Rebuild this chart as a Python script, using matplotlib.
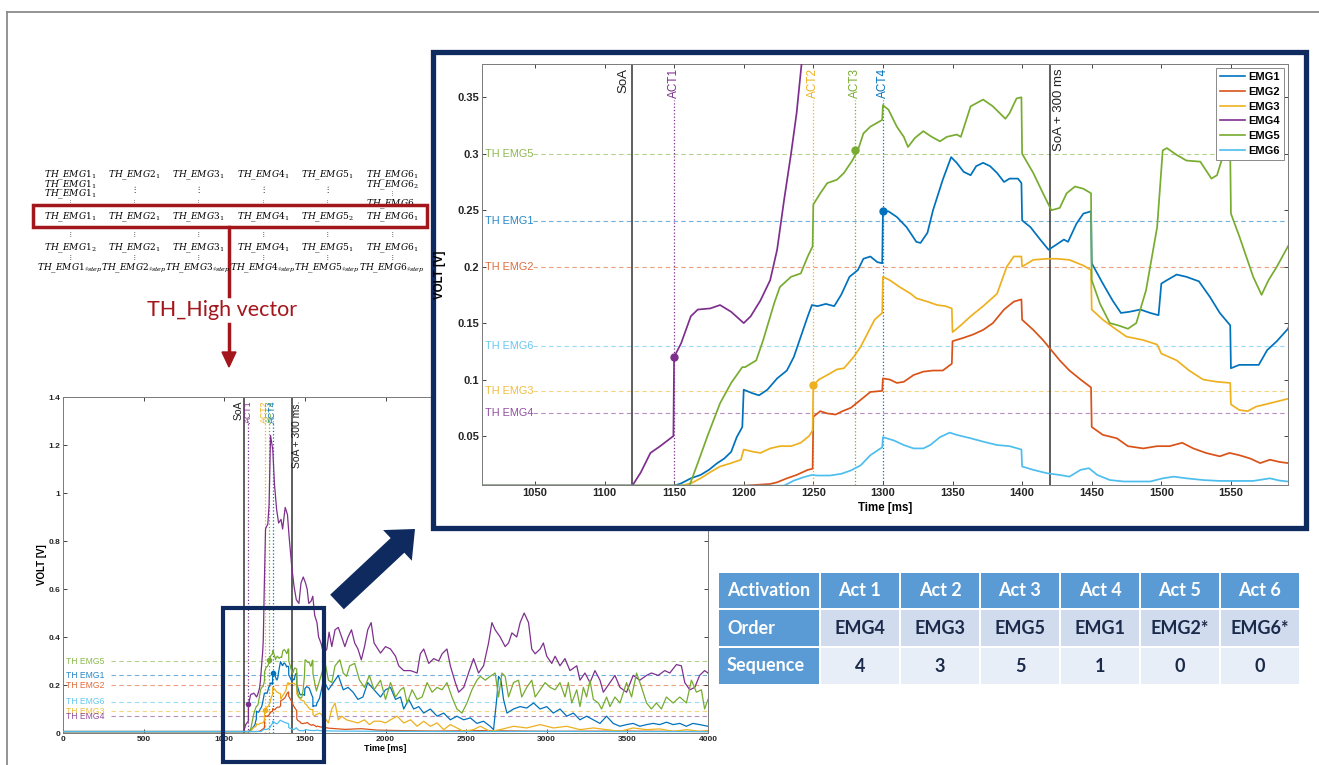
import matplotlib
matplotlib.use("Agg")
import matplotlib.pyplot as plt
from matplotlib.patches import Rectangle, FancyArrow, Polygon

# ---------------- data ----------------
emg1_t = [0, 1000, 1150, 1155, 1162, 1169, 1175, 1181, 1186, 1191, 1195, 1199, 1200, 1206, 1211, 1217, 1224, 1231,
          1236, 1241, 1246, 1249, 1253, 1259, 1265, 1270, 1276, 1282, 1286, 1291, 1296, 1299.5, 1300, 1304, 1310,
          1317, 1324, 1327, 1332, 1336, 1343, 1349, 1353, 1358, 1363, 1367, 1372, 1377, 1382, 1387, 1391, 1397,
          1399.5, 1400, 1406, 1413, 1419, 1424, 1430, 1433, 1439, 1444, 1449.5, 1450, 1458, 1465, 1471, 1477, 1485,
          1492, 1498, 1500, 1504, 1511, 1518, 1527, 1535, 1542, 1549.5, 1550, 1556, 1564, 1570, 1576, 1583, 1591,
          1616, 1646, 1677, 1707, 1738, 1768, 1799, 1829, 1860, 1890, 1929, 1969, 2000, 2031, 2062, 2093, 2113,
          2144, 2175, 2206, 2237, 2278, 2320, 2361, 2402, 2443, 2485, 2526, 2567, 2608, 2649, 2670, 2691, 2701,
          2716, 2732, 2753, 2794, 2835, 2876, 2918, 2959, 3000, 3041, 3082, 3124, 3165, 3206, 3247, 3289, 3330,
          3371, 3412, 3454, 3495, 3536, 3577, 3619, 3660, 3701, 3742, 3784, 3825, 3866, 3907, 3948, 4000]
emg1_v = [0.006, 0.006, 0.006, 0.008, 0.0125, 0.0155, 0.02, 0.026, 0.030, 0.036, 0.049, 0.058, 0.091, 0.088, 0.086,
          0.091, 0.101, 0.108, 0.12, 0.138, 0.156, 0.166, 0.165, 0.167, 0.165, 0.175, 0.191, 0.197, 0.207, 0.209,
          0.204, 0.203, 0.249, 0.249, 0.244, 0.235, 0.222, 0.221, 0.23, 0.25, 0.277, 0.297, 0.292, 0.284, 0.281,
          0.289, 0.292, 0.289, 0.283, 0.275, 0.278, 0.278, 0.274, 0.241, 0.235, 0.224, 0.215, 0.219, 0.224, 0.222,
          0.238, 0.247, 0.249, 0.203, 0.185, 0.17, 0.159, 0.16, 0.162, 0.159, 0.157, 0.185, 0.188, 0.193, 0.191,
          0.187, 0.173, 0.159, 0.148, 0.11, 0.113, 0.113, 0.113, 0.126, 0.134, 0.145, 0.22, 0.18, 0.21, 0.24, 0.18,
          0.19, 0.17, 0.14, 0.15, 0.21, 0.18, 0.15, 0.18, 0.19, 0.14, 0.15, 0.1, 0.14, 0.1, 0.11, 0.083, 0.1, 0.07,
          0.083, 0.055, 0.07, 0.055, 0.063, 0.04, 0.049, 0.028, 0.014, 0.15, 0.236, 0.22, 0.14, 0.083, 0.1, 0.11,
          0.104, 0.125, 0.1, 0.11, 0.083, 0.1, 0.07, 0.083, 0.055, 0.07, 0.055, 0.04, 0.07, 0.04, 0.028, 0.035,
          0.04, 0.028, 0.035, 0.04, 0.035, 0.045, 0.035, 0.04, 0.028, 0.04, 0.035, 0.028]

emg2_t = [0, 1200, 1219, 1224, 1231, 1238, 1246, 1249.5, 1250, 1255, 1260, 1266, 1271, 1277, 1284, 1291, 1299.5,
          1300, 1305, 1310, 1315, 1322, 1329, 1336, 1343, 1349.5, 1350, 1358, 1365, 1372, 1379, 1387, 1394, 1399.5,
          1400, 1408, 1415, 1421, 1427, 1434, 1442, 1449.5, 1450, 1458, 1468, 1476, 1487, 1497, 1506, 1515, 1523,
          1532, 1542, 1549, 1556, 1564, 1571, 1578, 1585, 1591, 1650, 1750, 1850, 1950, 2100, 2300, 2600, 3000,
          3500, 4000]
emg2_v = [0.006, 0.006, 0.0075, 0.009, 0.0125, 0.0155, 0.02, 0.021, 0.067, 0.072, 0.07, 0.069, 0.072, 0.075, 0.082,
          0.089, 0.09, 0.101, 0.1, 0.097, 0.098, 0.104, 0.107, 0.108, 0.108, 0.114, 0.134, 0.137, 0.14, 0.144, 0.15,
          0.162, 0.169, 0.171, 0.153, 0.144, 0.135, 0.126, 0.117, 0.108, 0.1, 0.093, 0.058, 0.051, 0.048, 0.041,
          0.039, 0.041, 0.041, 0.044, 0.039, 0.035, 0.032, 0.035, 0.033, 0.03, 0.026, 0.029, 0.027, 0.026, 0.02,
          0.015, 0.018, 0.012, 0.01, 0.008, 0.01, 0.007, 0.008, 0.006]

emg3_t = [0, 1155, 1162, 1169, 1176, 1183, 1191, 1198, 1200, 1207, 1212, 1219, 1226, 1234, 1241, 1247, 1249.5, 1250,
          1254, 1260, 1267, 1272, 1279, 1284, 1289, 1294, 1299.5, 1300, 1305, 1312, 1320, 1324, 1332, 1339, 1345,
          1349.5, 1350, 1355, 1363, 1372, 1382, 1389, 1394, 1399.5, 1400, 1408, 1418, 1425, 1434, 1444, 1449.5,
          1450, 1458, 1468, 1475, 1487, 1497, 1500, 1511, 1520, 1530, 1540, 1549.5, 1550, 1556, 1562, 1568, 1578,
          1591, 1616, 1646, 1667, 1687, 1707, 1728, 1758, 1789, 1829, 1870, 1900, 1929, 1969, 2000, 2031, 2072,
          2113, 2155, 2196, 2237, 2278, 2320, 2361, 2402, 2443, 2485, 2546, 2588, 2649, 2711, 2794, 2876, 2959,
          3041, 3124, 3206, 3289, 3371, 3454, 3536, 3619, 3701, 3784, 3866, 3948, 4000]
emg3_v = [0.006, 0.006, 0.008, 0.0125, 0.018, 0.023, 0.026, 0.029, 0.038, 0.036, 0.035, 0.039, 0.041, 0.041, 0.044,
          0.05, 0.055, 0.095, 0.1, 0.104, 0.109, 0.11, 0.12, 0.129, 0.141, 0.153, 0.159, 0.191, 0.188, 0.182, 0.176,
          0.172, 0.169, 0.166, 0.165, 0.163, 0.142, 0.147, 0.156, 0.165, 0.176, 0.2, 0.209, 0.209, 0.2, 0.206, 0.207,
          0.207, 0.206, 0.201, 0.197, 0.162, 0.153, 0.144, 0.138, 0.135, 0.131, 0.123, 0.117, 0.108, 0.1, 0.098,
          0.097, 0.078, 0.073, 0.072, 0.076, 0.079, 0.083, 0.07, 0.042, 0.1, 0.125, 0.055, 0.07, 0.055, 0.049,
          0.042, 0.055, 0.035, 0.049, 0.049, 0.042, 0.055, 0.07, 0.042, 0.055, 0.028, 0.049, 0.028, 0.042, 0.014,
          0.035, 0.021, 0.007, 0.014, 0.028, 0.007, 0.014, 0.028, 0.021, 0.035, 0.021, 0.028, 0.014, 0.021, 0.014,
          0.007, 0.021, 0.014, 0.017, 0.007, 0.014, 0.007, 0.011]

emg4_t = [0, 1120, 1126, 1133, 1140, 1149.5, 1150, 1155, 1162, 1167, 1176, 1183, 1191, 1200, 1205, 1212, 1219, 1224,
          1229, 1234, 1238, 1242, 1248, 1256, 1262, 1270, 1278, 1287, 1301, 1311, 1325, 1337, 1352, 1362, 1378, 1392,
          1402, 1419, 1433, 1447, 1463, 1476, 1490, 1504, 1514, 1524, 1539, 1549, 1561, 1575, 1585, 1591, 1602,
          1616, 1636, 1650, 1667, 1687, 1707, 1728, 1748, 1768, 1789, 1809, 1829, 1850, 1870, 1890, 1911, 1929,
          1969, 2000, 2031, 2062, 2082, 2113, 2155, 2196, 2216, 2237, 2268, 2299, 2330, 2351, 2381, 2402, 2433,
          2454, 2485, 2515, 2546, 2577, 2608, 2639, 2660, 2680, 2711, 2742, 2763, 2784, 2814, 2835, 2860, 2887,
          2907, 2928, 2959, 2979, 3000, 3031, 3052, 3082, 3113, 3144, 3186, 3206, 3237, 3268, 3299, 3330, 3351,
          3392, 3423, 3454, 3495, 3536, 3577, 3619, 3649, 3691, 3732, 3763, 3804, 3835, 3856, 3887, 3918, 3948,
          3979, 4000]
emg4_v = [0.006, 0.006, 0.0176, 0.035, 0.041, 0.05, 0.12, 0.132, 0.156, 0.162, 0.163, 0.166, 0.16, 0.15, 0.156, 0.17,
          0.188, 0.215, 0.259, 0.30, 0.336, 0.385, 0.6, 0.85, 0.86, 0.87, 0.95, 1.24, 1.18, 1.04, 0.93, 0.875, 0.89,
          0.85, 0.94, 0.91, 0.82, 0.69, 0.61, 0.555, 0.54, 0.625, 0.65, 0.625, 0.6, 0.54, 0.55, 0.57, 0.49, 0.46,
          0.40, 0.39, 0.37, 0.33, 0.35, 0.42, 0.36, 0.43, 0.44, 0.40, 0.36, 0.40, 0.43, 0.375, 0.35, 0.305, 0.36,
          0.43, 0.46, 0.375, 0.333, 0.36, 0.35, 0.32, 0.28, 0.26, 0.26, 0.25, 0.33, 0.35, 0.29, 0.31, 0.30, 0.33,
          0.35, 0.28, 0.21, 0.17, 0.19, 0.25, 0.31, 0.25, 0.28, 0.375, 0.46, 0.43, 0.40, 0.36, 0.375, 0.417, 0.40,
          0.46, 0.50, 0.46, 0.35, 0.33, 0.35, 0.375, 0.32, 0.29, 0.32, 0.28, 0.31, 0.26, 0.28, 0.22, 0.25, 0.21,
          0.26, 0.22, 0.17, 0.21, 0.24, 0.19, 0.17, 0.24, 0.22, 0.24, 0.25, 0.24, 0.26, 0.25, 0.285, 0.28, 0.21,
          0.18, 0.19, 0.24, 0.26, 0.25]

emg5_t = [0, 1161, 1167, 1174, 1183, 1191, 1199, 1201, 1209, 1214, 1222, 1226, 1234, 1241, 1246, 1249.5, 1250, 1255,
          1260, 1267, 1272, 1278, 1282, 1286, 1291, 1299.5, 1300, 1304, 1310, 1315, 1318, 1323, 1329, 1335, 1341,
          1346, 1353, 1356, 1363, 1372, 1379, 1388, 1391, 1396, 1399.5, 1400, 1408, 1415, 1421, 1427, 1432, 1438,
          1444, 1449.5, 1450, 1456, 1463, 1469, 1476, 1482, 1489, 1497, 1501, 1504, 1511, 1518, 1528, 1536, 1540,
          1544, 1548, 1549.5, 1550, 1556, 1566, 1572, 1577, 1583, 1591, 1605, 1626, 1646, 1667, 1687, 1717, 1738,
          1758, 1778, 1809, 1839, 1870, 1900, 1929, 1969, 2000, 2031, 2062, 2093, 2113, 2134, 2165, 2196, 2227,
          2258, 2289, 2320, 2351, 2381, 2412, 2443, 2474, 2505, 2536, 2567, 2588, 2619, 2649, 2680, 2701, 2722,
          2742, 2763, 2794, 2825, 2845, 2876, 2907, 2928, 2959, 2990, 3021, 3052, 3082, 3113, 3134, 3155, 3186,
          3206, 3227, 3247, 3268, 3289, 3320, 3340, 3371, 3392, 3423, 3454, 3495, 3526, 3557, 3588, 3619, 3649,
          3680, 3711, 3742, 3784, 3825, 3866, 3897, 3928, 3959, 3979, 4000]
emg5_v = [0.006, 0.006, 0.026, 0.05, 0.079, 0.097, 0.111, 0.111, 0.117, 0.135, 0.168, 0.182, 0.191, 0.194, 0.209,
          0.218, 0.255, 0.265, 0.274, 0.277, 0.283, 0.294, 0.303, 0.318, 0.324, 0.33, 0.343, 0.339, 0.324, 0.315,
          0.306, 0.314, 0.32, 0.315, 0.311, 0.315, 0.317, 0.315, 0.342, 0.348, 0.342, 0.331, 0.336, 0.349, 0.35,
          0.30, 0.283, 0.265, 0.25, 0.252, 0.265, 0.271, 0.269, 0.265, 0.188, 0.167, 0.15, 0.148, 0.145, 0.15,
          0.179, 0.235, 0.303, 0.305, 0.299, 0.294, 0.293, 0.278, 0.281, 0.297, 0.303, 0.30, 0.247, 0.227, 0.191,
          0.175, 0.188, 0.2, 0.218, 0.25, 0.29, 0.22, 0.21, 0.28, 0.305, 0.25, 0.236, 0.28, 0.29, 0.22, 0.19, 0.24,
          0.18, 0.22, 0.14, 0.21, 0.15, 0.18, 0.19, 0.125, 0.18, 0.14, 0.15, 0.21, 0.17, 0.19, 0.18, 0.21, 0.15,
          0.1, 0.083, 0.125, 0.18, 0.22, 0.236, 0.22, 0.236, 0.25, 0.15, 0.25, 0.236, 0.15, 0.21, 0.22, 0.15, 0.19,
          0.22, 0.15, 0.18, 0.21, 0.19, 0.18, 0.21, 0.15, 0.21, 0.125, 0.18, 0.11, 0.19, 0.15, 0.22, 0.14, 0.125,
          0.1, 0.15, 0.11, 0.15, 0.125, 0.21, 0.15, 0.25, 0.19, 0.125, 0.1, 0.125, 0.1, 0.15, 0.125, 0.15, 0.125,
          0.22, 0.17, 0.18, 0.1, 0.14]

emg6_t = [0, 1229, 1236, 1243, 1249, 1253, 1262, 1270, 1277, 1284, 1291, 1299.5, 1300, 1308, 1315, 1322, 1329, 1334,
          1341, 1348, 1353, 1363, 1372, 1382, 1391, 1399.5, 1400, 1408, 1418, 1427, 1434, 1442, 1448, 1454, 1463,
          1473, 1482, 1492, 1501, 1509, 1518, 1530, 1542, 1554, 1566, 1578, 1585, 1591, 1700, 2000, 2500, 3000,
          3500, 4000]
emg6_v = [0.006, 0.006, 0.0105, 0.0135, 0.0155, 0.015, 0.015, 0.0165, 0.0195, 0.024, 0.033, 0.04, 0.049, 0.046,
          0.042, 0.039, 0.039, 0.042, 0.049, 0.053, 0.051, 0.048, 0.045, 0.042, 0.041, 0.038, 0.023, 0.02, 0.017,
          0.0155, 0.014, 0.02, 0.0215, 0.0155, 0.011, 0.0097, 0.0097, 0.0097, 0.0125, 0.014, 0.0125, 0.011, 0.0102,
          0.0102, 0.0102, 0.0125, 0.0105, 0.0097, 0.008, 0.007, 0.006, 0.007, 0.006, 0.006]

emg_names = ["EMG1", "EMG2", "EMG3", "EMG4", "EMG5", "EMG6"]
th_values = [0.24, 0.20, 0.09, 0.07, 0.30, 0.13]
soa_time = 1120
soa_end_time = 1420
act_names = ["ACT1", "ACT2", "ACT3", "ACT4"]
act_channels = [3, 2, 4, 0]          # index into emg_names
act_times = [1150, 1250, 1280, 1300]
act_values = [0.12, 0.095, 0.303, 0.249]

table_head = ["Activation", "Act 1", "Act 2", "Act 3", "Act 4", "Act 5", "Act 6"]
table_order = ["EMG4", "EMG3", "EMG5", "EMG1", "EMG2*", "EMG6*"]
table_sequence = [4, 3, 5, 1, 0, 0]

matrix_cols = ["1", "2", "3", "4", "5", "6"]

# ---------------- style ----------------
colors = ["#0072BD", "#D95319", "#EDB120", "#7E2F8E", "#77AC30", "#4DBEEE"]
navy = "#0f2a5e"
dark_red = "#a3161c"
plt.rcParams["font.family"] = ["Liberation Sans", "DejaVu Sans"]
plt.rcParams["mathtext.fontset"] = "dejavuserif"

series = [(emg1_t, emg1_v), (emg2_t, emg2_v), (emg3_t, emg3_v),
          (emg4_t, emg4_v), (emg5_t, emg5_v), (emg6_t, emg6_v)]

W, H = 1319, 765
fig = plt.figure(figsize=(W / 100, H / 100), dpi=100)


def px_axes(x0, y0, x1, y1, **kw):
    return fig.add_axes([x0 / W, 1 - y1 / H, (x1 - x0) / W, (y1 - y0) / H], **kw)


def draw_emg(ax, lw, th_fs, th_xmin, soa_fs, act_fs, soa_end_label, act_top, ms):
    for k, (t, v) in enumerate(series):
        ax.plot(t, v, color=colors[k], lw=lw, label=emg_names[k], zorder=3)
    for k, th in enumerate(th_values):
        ax.axhline(th, xmin=th_xmin, color=colors[k], lw=0.8, ls=(0, (4, 3)), alpha=0.55, zorder=1)
        ax.text(0.004, th, "TH " + emg_names[k], color=colors[k], alpha=0.85, fontsize=th_fs,
                va="center", ha="left", transform=ax.get_yaxis_transform(), zorder=2)
    tr = ax.get_xaxis_transform()
    ax.axvline(soa_time, color="#333333", lw=1.1, zorder=2)
    ax.axvline(soa_end_time, color="#333333", lw=1.1, zorder=2)
    ax.text(soa_time - 2, 0.99, "SoA", rotation=90, ha="right", va="top", fontsize=soa_fs,
            color="#222222", transform=tr)
    ax.text(soa_end_time + 2, 0.99, soa_end_label, rotation=90, ha="left", va="top", fontsize=soa_fs,
            color="#222222", transform=tr)
    for name, ch, t, v in zip(act_names, act_channels, act_times, act_values):
        ax.axvline(t, ymax=act_top, color=colors[ch], lw=0.9, ls=":", zorder=2)
        ax.text(t, 0.99, name, rotation=90, ha="center", va="top", fontsize=act_fs,
                color=colors[ch], transform=tr)
        ax.plot(t, v, "o", color=colors[ch], ms=ms, zorder=4)


def matlab_box(ax, fs):
    ax.tick_params(direction="in", top=True, right=True, length=3, width=0.6,
                   labelsize=fs, colors="#262626", pad=2)
    for lab in ax.get_xticklabels() + ax.get_yticklabels():
        lab.set_fontweight("bold")
    for s in ax.spines.values():
        s.set_color("#7a7a7a")
        s.set_linewidth(0.7)


# ---------------- full recording (bottom left) ----------------
ax_full = px_axes(63, 397, 708, 733, zorder=1)
ax_full.set_facecolor("none")
draw_emg(ax_full, 0.9, 6.2, 0.075, 7.5, 6.3, "SoA + 300 ms.", 0.93, 3)
ax_full.set_xlim(0, 4000)
ax_full.set_ylim(0, 1.4)
ax_full.set_xticks(range(0, 4001, 500))
ax_full.set_yticks([0, 0.2, 0.4, 0.6, 0.8, 1.0, 1.2, 1.4])
ax_full.set_yticklabels(["0", "0.2", "0.4", "0.6", "0.8", "1", "1.2", "1.4"])
matlab_box(ax_full, 6)
ax_full.set_xlabel("Time [ms]", fontsize=6.5, fontweight="bold", labelpad=1)
ax_full.set_ylabel("VOLT [V]", fontsize=7, fontweight="bold", labelpad=1)

# ---------------- overlay (pixel coordinates) ----------------
ov = fig.add_axes([0, 0, 1, 1], zorder=2)
ov.set_xlim(0, W)
ov.set_ylim(H, 0)
ov.axis("off")
ov.patch.set_alpha(0)

ov.plot([7, W], [12, 12], color="#8a8a8a", lw=1.3)
ov.plot([7, 7], [12, H], color="#8a8a8a", lw=1.3)

# threshold matrix
col_x = [70, 134, 198, 263, 327, 392]


def th(c, sub):
    return r"$\mathit{TH\_EMG" + c + r"}_{" + sub + r"}$"


mfs = 6.5
for i, c in enumerate(matrix_cols):
    x = col_x[i]
    ov.text(x, 175, th(c, "1"), ha="center", va="center", fontsize=mfs)
    ov.text(x, 217, th(c, "2" if c == "5" else "1"), ha="center", va="center", fontsize=mfs)
    ov.text(x, 248, th(c, "2" if c == "1" else "1"), ha="center", va="center", fontsize=mfs)
    ov.text(x, 268, th(c, r"\sharp step"), ha="center", va="center", fontsize=mfs)
    ov.text(x, 235, r"$\vdots$", ha="center", va="center", fontsize=5)
    ov.text(x, 258, r"$\vdots$", ha="center", va="center", fontsize=5)
    if c == "1":
        ov.text(x, 185, th(c, "1"), ha="center", va="center", fontsize=mfs)
        ov.text(x, 194, th(c, "1"), ha="center", va="center", fontsize=mfs)
        ov.text(x, 203, r"$\vdots$", ha="center", va="center", fontsize=4)
    elif c == "6":
        ov.text(x, 185, th(c, "2"), ha="center", va="center", fontsize=mfs)
        ov.text(x, 194, r"$\vdots$", ha="center", va="center", fontsize=4)
        ov.text(x, 204, th(c, "n"), ha="center", va="center", fontsize=mfs)
    else:
        ov.text(x, 189, r"$\vdots$", ha="center", va="center", fontsize=6)
        ov.text(x, 203, r"$\vdots$", ha="center", va="center", fontsize=4)

ov.add_patch(Rectangle((33, 205), 394, 22, fill=False, edgecolor=dark_red, lw=2.5, zorder=5))
ov.plot([229, 229], [227, 296], color=dark_red, lw=2.5)
ov.plot([229, 229], [324, 353], color=dark_red, lw=2.5)
ov.add_patch(Polygon([[222, 352], [236, 352], [229, 367]], closed=True, color=dark_red))
ov.text(222, 310, "TH_High vector", ha="center", va="center", fontsize=15.5, color=dark_red,
        family=["Lato", "DejaVu Sans"])

# zoom box and arrow
ov.add_patch(Rectangle((223, 608), 101, 154, fill=False, edgecolor=navy, lw=3))
ov.add_patch(FancyArrow(337, 602, 78, -73, width=20, head_width=42, head_length=24,
                        length_includes_head=True, color=navy, lw=0))

# inset frame
ov.add_patch(Rectangle((433, 52), 873, 476, facecolor="white", edgecolor=navy, lw=3.8))

# table
col_edges = [718, 820, 900, 980, 1060, 1140, 1220, 1300]
row_edges = [572, 609, 647, 685]
head_blue = "#5b9bd5"
row_fill = ["#d0dcee", "#e8eef7"]
tfont = ["Lato", "DejaVu Sans"]
for r in range(3):
    for c in range(7):
        x0, x1 = col_edges[c] + 1, col_edges[c + 1] - 1
        y0, y1 = row_edges[r] + 1, row_edges[r + 1] - 1
        fill = head_blue if (r == 0 or c == 0) else row_fill[r - 1]
        ov.add_patch(Rectangle((x0, y0), x1 - x0, y1 - y0, facecolor=fill, edgecolor="none"))
        yc = (y0 + y1) / 2
        if r == 0:
            txt = table_head[c]
        elif c == 0:
            txt = ["Order", "Sequence"][r - 1]
        elif r == 1:
            txt = table_order[c - 1]
        else:
            txt = str(table_sequence[c - 1])
        if c == 0:
            ov.text(x0 + 8, yc, txt, ha="left", va="center", fontsize=13, color="white",
                    fontweight="bold", family=tfont)
        else:
            ov.text((x0 + x1) / 2, yc, txt, ha="center", va="center", fontsize=13,
                    color="white" if r == 0 else "#1b2a4a", fontweight="bold", family=tfont)

# ---------------- zoomed view (inset) ----------------
ax_in = px_axes(482, 64, 1288, 485, zorder=3)
draw_emg(ax_in, 1.25, 7.8, 0.063, 9.5, 8.5, "SoA + 300 ms", 0.915, 5)
ax_in.set_xlim(1012, 1591)
ax_in.set_ylim(0.0066, 0.3795)
ax_in.set_xticks(range(1050, 1551, 50))
ax_in.set_yticks([0.05, 0.1, 0.15, 0.2, 0.25, 0.3, 0.35])
ax_in.set_yticklabels(["0.05", "0.1", "0.15", "0.2", "0.25", "0.3", "0.35"])
matlab_box(ax_in, 8)
ax_in.set_xlabel("Time [ms]", fontsize=8.3, fontweight="bold", labelpad=3)
ax_in.set_ylabel("VOLT [V]", fontsize=8.3, fontweight="bold", labelpad=8)
handles = ax_in.get_lines()[:6]
leg = ax_in.legend(handles=handles, labels=emg_names, loc="upper right",
                   prop={"weight": "bold", "size": 8}, handlelength=2.2, handletextpad=0.3,
                   labelspacing=0.42, borderpad=0.35, borderaxespad=0.4, fancybox=False,
                   framealpha=1)
leg.get_frame().set_edgecolor("#8a8a8a")
leg.get_frame().set_linewidth(0.7)
for l in leg.get_lines():
    l.set_linewidth(1.2)

fig.savefig("out.png", dpi=100)
